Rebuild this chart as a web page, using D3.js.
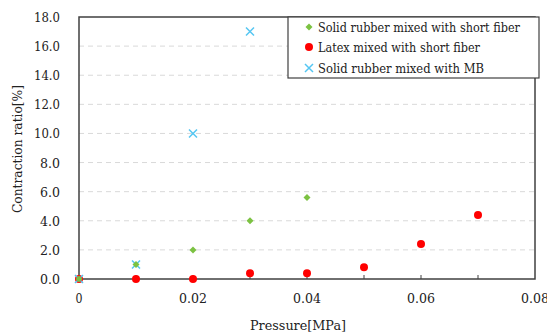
<!DOCTYPE html>
<html><head><meta charset="utf-8">
<script src="https://cdn.jsdelivr.net/npm/d3@7"></script>
<style>body{margin:0;background:#fff;} svg{display:block;}</style>
</head><body>
<svg id="c" width="547" height="332"></svg>
<script>
const seriesNames = ["Solid rubber mixed with short fiber", "Latex mixed with short fiber", "Solid rubber mixed with MB"];
const solidFiberX = [0, 0.01, 0.02, 0.03, 0.04];
const solidFiberY = [0, 1.0, 2.0, 4.0, 5.6];
const latexX = [0, 0.01, 0.02, 0.03, 0.04, 0.05, 0.06, 0.07];
const latexY = [0, 0, 0, 0.4, 0.4, 0.8, 2.4, 4.4];
const mbX = [0, 0.01, 0.02, 0.03];
const mbY = [0, 1.0, 10.0, 17.0];
const xTicks = [0, 0.02, 0.04, 0.06, 0.08];
const xMinorTicks = [0.01, 0.02, 0.03, 0.04, 0.05, 0.06, 0.07];
const yTicks = [0, 2, 4, 6, 8, 10, 12, 14, 16, 18];

const FONT = "DejaVu Serif";
const svg = d3.select("#c").style("font-family", FONT);
const L = 79, R = 535, T = 17, B = 279;
const x = d3.scaleLinear().domain([0, 0.08]).range([L, R]);
const y = d3.scaleLinear().domain([0, 18]).range([B, T]);

svg.append("g").selectAll("line").data(yTicks.filter(v => v > 0 && v < 18)).join("line")
  .attr("x1", L).attr("x2", R).attr("y1", d => y(d)).attr("y2", d => y(d))
  .attr("stroke", "#d9d9d9").attr("stroke-width", 1).attr("stroke-dasharray", "5,4");

svg.append("g").selectAll("line").data(xMinorTicks).join("line")
  .attr("x1", d => x(d)).attr("x2", d => x(d)).attr("y1", B).attr("y2", B - 4)
  .attr("stroke", "#404040").attr("stroke-width", 1);

svg.append("rect").attr("x", L).attr("y", T).attr("width", R - L).attr("height", B - T)
  .attr("fill", "none").attr("stroke", "#404040").attr("stroke-width", 1.5);

svg.append("g").selectAll("text").data(yTicks).join("text")
  .attr("x", 60).attr("y", d => y(d) + 5).attr("text-anchor", "end")
  .attr("textLength", d => d >= 10 ? 26 : 20).attr("lengthAdjust", "spacingAndGlyphs")
  .attr("font-size", 13).attr("fill", "#222").text(d => d.toFixed(1));
svg.append("g").selectAll("text").data(xTicks).join("text")
  .attr("x", d => x(d)).attr("y", B + 24).attr("text-anchor", "middle")
  .attr("textLength", d => d === 0 ? 7 : 28).attr("lengthAdjust", "spacingAndGlyphs")
  .attr("font-size", 13).attr("fill", "#222").text(d => d === 0 ? "0" : d3.format(".2f")(d));

svg.append("text").attr("transform", `translate(22,149) rotate(-90)`)
  .attr("text-anchor", "middle").attr("font-size", 13).attr("fill", "#222")
  .attr("textLength", 128).attr("lengthAdjust", "spacingAndGlyphs").text("Contraction ratio[%]");
svg.append("text").attr("x", 298).attr("y", 330).attr("text-anchor", "middle")
  .attr("font-size", 13).attr("fill", "#222")
  .attr("textLength", 96).attr("lengthAdjust", "spacingAndGlyphs").text("Pressure[MPa]");

const green = "#7cc242", red = "#ff0000", blue = "#55c6f2";
function diamond(g, cx, cy, r) {
  g.append("path").attr("d", `M${cx},${cy - r}L${cx + r},${cy}L${cx},${cy + r}L${cx - r},${cy}Z`).attr("fill", green);
}
function cross(g, cx, cy, r) {
  g.append("path").attr("d", `M${cx - r},${cy - r}L${cx + r},${cy + r}M${cx - r},${cy + r}L${cx + r},${cy - r}`)
    .attr("stroke", blue).attr("stroke-width", 1.5).attr("fill", "none");
}
const pts = svg.append("g");
latexX.forEach((v, i) => pts.append("circle").attr("cx", x(v)).attr("cy", y(latexY[i])).attr("r", 4).attr("fill", red));
mbX.forEach((v, i) => cross(pts, x(v), y(mbY[i]), 4));
solidFiberX.forEach((v, i) => diamond(pts, x(v), y(solidFiberY[i]), 3.5));

const lg = svg.append("g");
lg.append("rect").attr("x", 288).attr("y", 17).attr("width", 251).attr("height", 61)
  .attr("fill", "#fff").attr("stroke", "#404040").attr("stroke-width", 1.2);
const rows = [27, 47, 68];
const legendWidths = [202, 162, 166];
diamond(lg, 309, rows[0], 3.5);
lg.append("circle").attr("cx", 309).attr("cy", rows[1]).attr("r", 4).attr("fill", red);
cross(lg, 309, rows[2], 4);
seriesNames.forEach((s, i) => lg.append("text").attr("x", 318).attr("y", rows[i] + 5)
  .attr("textLength", legendWidths[i]).attr("lengthAdjust", "spacingAndGlyphs")
  .attr("font-size", 13).attr("fill", "#222").text(s));
</script>
</body></html>
